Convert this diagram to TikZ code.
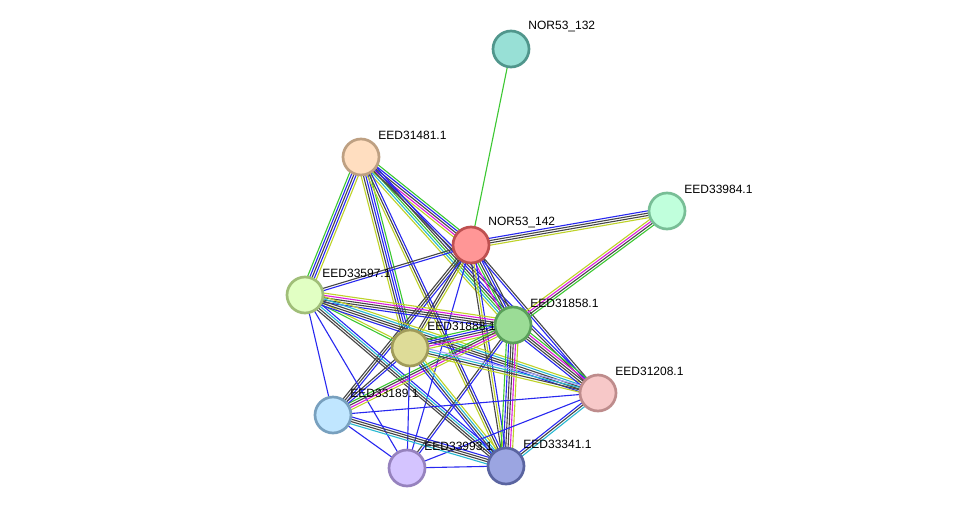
\documentclass[tikz,border=0pt]{standalone}
\usepackage{fontspec}
\usepackage{tikz}
\usetikzlibrary{calc,backgrounds}
\newfontfamily\lblfont{Liberation Sans}

\definecolor{cgreen}{RGB}{60,200,50}
\definecolor{cblue}{RGB}{40,40,240}
\definecolor{cblack}{RGB}{70,70,70}
\definecolor{cmag}{RGB}{220,30,220}
\definecolor{ccyan}{RGB}{40,185,210}
\definecolor{cyellow}{RGB}{190,210,40}
\definecolor{chomol}{RGB}{165,165,250}

% one interaction = a bundle of parallel coloured lines
\newcommand{\link}[3]{%
  \foreach \c [count=\n] in {#3} {\xdef\nlines{\n}}%
  \foreach \c [count=\i] in {#3} {%
    \pgfmathsetmacro{\off}{(\i-(\nlines+1)/2)*2.3}%
    \draw[edge, \c] ($(#1)!\off pt!90:(#2)$) -- ($(#2)!\off pt!-90:(#1)$);
  }}

\begin{document}
\begin{tikzpicture}[
    x=1pt, y=-1pt,
    prot/.style={circle, line width=2.7pt, minimum size=36pt, inner sep=0pt},
    lbl/.style={font=\lblfont\fontsize{12}{14}\selectfont, inner sep=0pt, label distance=5pt},
    edge/.style={line width=1.1pt}
]
\useasboundingbox (0,0) rectangle (976,514);

% Proteins
\node[prot, fill={rgb,255:red,152;green,224;blue,214}, draw={rgb,255:red,80;green,150;blue,140}, label={[lbl]45:NOR53\_132}] (n132) at (511,49) {};
\node[prot, fill={rgb,255:red,255;green,222;blue,192}, draw={rgb,255:red,190;green,160;blue,130}, label={[lbl]45:EED31481.1}] (a481) at (361,157) {};
\node[prot, fill={rgb,255:red,192;green,255;blue,220}, draw={rgb,255:red,120;green,190;blue,150}, label={[lbl]45:EED33984.1}] (a984) at (667,211) {};
\node[prot, fill={rgb,255:red,255;green,150;blue,150}, draw={rgb,255:red,190;green,80;blue,80}, label={[lbl]45:NOR53\_142}] (n142) at (471,245) {};
\node[prot, fill={rgb,255:red,225;green,255;blue,195}, draw={rgb,255:red,160;green,190;blue,120}, label={[lbl]45:EED33597.1}] (a597) at (305,295) {};
\node[prot, fill={rgb,255:red,155;green,220;blue,150}, draw={rgb,255:red,90;green,160;blue,90}, label={[lbl]45:EED31858.1}] (a858) at (513,325) {};
\node[prot, fill={rgb,255:red,222;green,220;blue,152}, draw={rgb,255:red,160;green,155;blue,90}, label={[lbl]45:EED31888.1}] (a888) at (410,348) {};
\node[prot, fill={rgb,255:red,247;green,200;blue,200}, draw={rgb,255:red,190;green,140;blue,140}, label={[lbl]45:EED31208.1}] (a208) at (598,393) {};
\node[prot, fill={rgb,255:red,192;green,230;blue,255}, draw={rgb,255:red,120;green,160;blue,190}, label={[lbl]45:EED33189.1}] (a189) at (333,415) {};
\node[prot, fill={rgb,255:red,212;green,196;blue,255}, draw={rgb,255:red,150;green,130;blue,190}, label={[lbl]45:EED33993.1}] (a993) at (407,468) {};
\node[prot, fill={rgb,255:red,155;green,165;blue,225}, draw={rgb,255:red,90;green,100;blue,160}, label={[lbl]45:EED33341.1}] (a341) at (506,466) {};

% Interactions
\begin{pgfonlayer}{background}
\fill[white] (0,0) rectangle (976,514);
\link{n132}{n142}{cgreen}
\link{a481}{n142}{cyellow,cmag,cblack,cblue,cgreen}
\link{a481}{a597}{cgreen,cblue,cblack,cblue,cyellow}
\link{a481}{a888}{cyellow,cblack,cblue,cblue,cgreen}
\link{a481}{a858}{cyellow,ccyan,cgreen,cblack,cblue}
\link{a481}{a208}{cblack,cblue}
\link{a481}{a341}{cyellow,cblack,cblue}
\link{n142}{a984}{cyellow,cblack,cblack,cblue}
\link{n142}{a597}{cblack,cblue}
\link{n142}{a858}{cmag,cgreen,cblack,cblue,cblack}
\link{n142}{a888}{cblack,cblack,cyellow}
\link{n142}{a189}{cblack,cblack,cblue}
\link{n142}{a993}{cblue}
\link{n142}{a341}{cblack,cyellow,cblue}
\link{n142}{a208}{cblue,cblack}
\link{a984}{a858}{cyellow,cmag,cblack,cgreen}
\link{a597}{a858}{cblue,cblack,cblack,cmag,cyellow}
\link{a597}{a888}{cgreen,cyellow}
\link{a597}{a208}{cblue,cblack,cblack,ccyan,cyellow}
\link{a597}{a189}{cblue}
\link{a597}{a993}{cblue}
\link{a597}{a341}{cblack,cblack,ccyan,cblue}
\link{a858}{a888}{cgreen,cblue,cblack,cmag,cyellow}
\link{a858}{a208}{cblue,cblack,cblack,cmag,cgreen}
\link{a858}{a341}{cgreen,cblue,cblack,cblack,cmag,cyellow}
\link{a858}{a189}{cgreen,cblack,cmag,cyellow}
\link{a858}{a993}{cblack,cblue}
\link{a888}{a208}{cyellow,cblack,ccyan,chomol}
\link{a888}{a189}{cblack,cblue}
\link{a888}{a993}{cblue}
\link{a888}{a341}{cblue,cblack,ccyan,cyellow}
\link{a208}{a189}{cblue}
\link{a208}{a341}{cblue,cblack,ccyan}
\link{a208}{a993}{cblue}
\link{a189}{a993}{cblue}
\link{a189}{a341}{ccyan,cblack,cblack,cblue}
\link{a993}{a341}{cblue}
\end{pgfonlayer}

\end{tikzpicture}
\end{document}
